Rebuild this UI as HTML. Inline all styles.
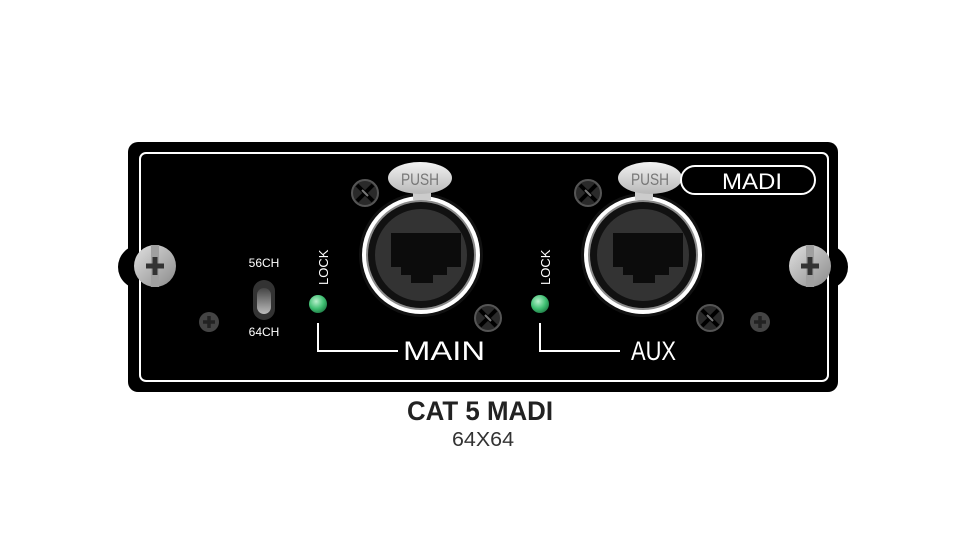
<!DOCTYPE html>
<html><head><style>
body{margin:0;background:#fff;}
svg{display:block}
text{font-family:"Liberation Sans",sans-serif}
</style></head><body>
<svg width="967" height="533" viewBox="0 0 967 533">
<defs>
<radialGradient id="led" cx="40%" cy="35%" r="70%"><stop offset="0" stop-color="#b8f0cc"/><stop offset="0.6" stop-color="#3fbf72"/><stop offset="1" stop-color="#1f7a45"/></radialGradient>
<linearGradient id="push" x1="0" y1="0" x2="0" y2="1"><stop offset="0" stop-color="#f2f2f2"/><stop offset="1" stop-color="#b8b8b8"/></linearGradient>
<linearGradient id="scr" x1="0" y1="0" x2="1" y2="1"><stop offset="0" stop-color="#e0e0e0"/><stop offset="1" stop-color="#8a8a8a"/></linearGradient>
<linearGradient id="tog" x1="0" y1="0" x2="0" y2="1"><stop offset="0" stop-color="#444"/><stop offset="1" stop-color="#bbb"/></linearGradient>
<g id="conn">
<circle r="62" fill="#111"/>
<circle r="59" fill="#fff"/>
<circle r="55" fill="#8a8a8a"/>
<circle r="53" fill="#111"/>
<circle r="46" fill="#333"/>
<path d="M-30,-22 H40 V12 H26 V20 H12 V28 H-10 V20 H-20 V12 H-30 Z" fill="#0c0c0c"/>
</g>
<g id="bscr">
<circle r="13" fill="#2a2a2a" stroke="#555" stroke-width="2"/>
<path d="M-8,-8 L8,8 M-8,8 L8,-8" stroke="#000" stroke-width="4"/>
<path d="M-3,-3 L3,3" stroke="#777" stroke-width="2"/>
</g>
<g id="sscr">
<circle r="10" fill="#444"/>
<path d="M-6,0 H6 M0,-6 V6" stroke="#222" stroke-width="3.5"/>
</g>
<g id="bigscr">
<circle r="21" fill="url(#scr)"/>
<rect x="-4" y="-21" width="8" height="42" fill="#a0a0a0"/>
<path d="M-9,0 H9 M0,-9 V9" stroke="#333" stroke-width="5"/>
</g>
</defs>
<rect x="128" y="142" width="710" height="250" rx="10" fill="#000"/>
<circle cx="140" cy="267" r="22" fill="#000"/>
<circle cx="826" cy="267" r="22" fill="#000"/>
<rect x="140" y="153" width="688" height="228" rx="6" fill="none" stroke="#fff" stroke-width="2"/>
<use href="#bigscr" x="155" y="266"/>
<use href="#bigscr" x="810" y="266"/>
<use href="#sscr" x="209" y="322"/>
<use href="#sscr" x="760" y="322"/>
<text x="264" y="267" font-size="12" fill="#fff" text-anchor="middle">56CH</text>
<text x="264" y="336" font-size="12" fill="#fff" text-anchor="middle">64CH</text>
<rect x="253" y="280" width="22" height="40" rx="11" fill="#333"/>
<rect x="257" y="288" width="14" height="26" rx="7" fill="url(#tog)"/>
<circle cx="318" cy="304" r="9" fill="url(#led)"/>
<circle cx="540" cy="304" r="9" fill="url(#led)"/>
<text transform="translate(328,285) rotate(-90)" font-size="13" fill="#fff">LOCK</text>
<text transform="translate(550,285) rotate(-90)" font-size="13" fill="#fff">LOCK</text>
<path d="M318,323 V351 H398" fill="none" stroke="#fff" stroke-width="2"/>
<path d="M540,323 V351 H620" fill="none" stroke="#fff" stroke-width="2"/>
<text x="403" y="360" font-size="27" fill="#fff" textLength="82" lengthAdjust="spacingAndGlyphs">MAIN</text>
<text x="631" y="360" font-size="27" fill="#fff" textLength="45" lengthAdjust="spacingAndGlyphs">AUX</text>
<use href="#conn" x="421" y="255"/>
<use href="#conn" x="643" y="255"/>
<use href="#bscr" x="365" y="193"/>
<use href="#bscr" x="488" y="318"/>
<use href="#bscr" x="588" y="193"/>
<use href="#bscr" x="710" y="318"/>
<rect x="413" y="188" width="18" height="12" fill="#ccc"/>
<rect x="635" y="188" width="18" height="12" fill="#ccc"/>
<ellipse cx="420" cy="178" rx="32" ry="16" fill="url(#push)"/>
<ellipse cx="650" cy="178" rx="32" ry="16" fill="url(#push)"/>
<text x="420" y="185" font-size="17" fill="#777" text-anchor="middle" textLength="38" lengthAdjust="spacingAndGlyphs">PUSH</text>
<text x="650" y="185" font-size="17" fill="#777" text-anchor="middle" textLength="38" lengthAdjust="spacingAndGlyphs">PUSH</text>
<rect x="681" y="166" width="134" height="28" rx="14" fill="#000" stroke="#fff" stroke-width="2"/>
<text x="752" y="189" font-size="22" fill="#fff" text-anchor="middle" textLength="60" lengthAdjust="spacingAndGlyphs">MADI</text>
<text x="480" y="420" font-size="27" font-weight="bold" fill="#222" text-anchor="middle" textLength="146" lengthAdjust="spacingAndGlyphs">CAT 5 MADI</text>
<text x="483" y="446" font-size="20" fill="#333" text-anchor="middle" textLength="62" lengthAdjust="spacingAndGlyphs">64X64</text>
</svg>
</body></html>
